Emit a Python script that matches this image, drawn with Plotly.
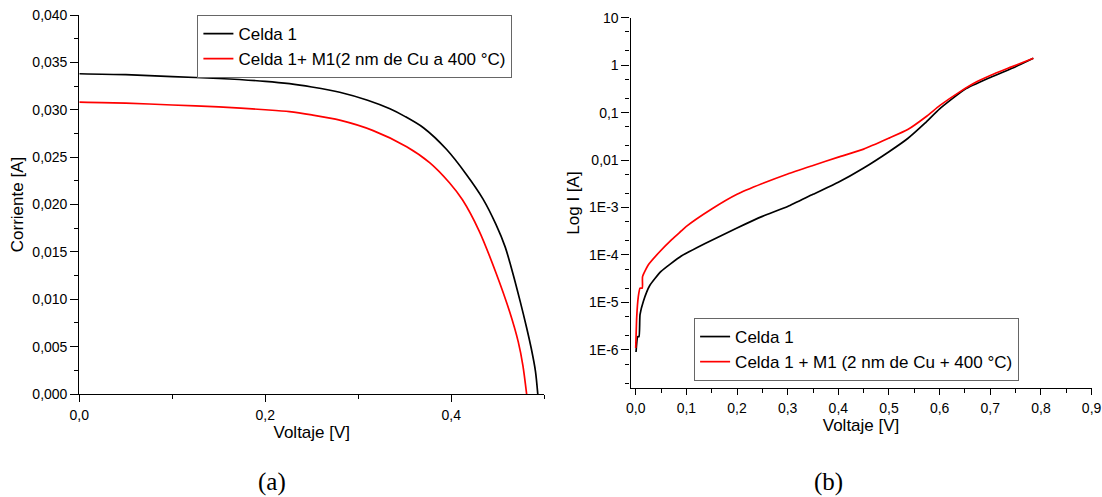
import plotly.graph_objects as go

# ---- Panel (a): I-V curves ----
va_c1 = [0.0, 0.05, 0.1, 0.15, 0.2, 0.226, 0.25, 0.28, 0.31, 0.334, 0.35, 0.37, 0.395, 0.416, 0.434, 0.448, 0.458, 0.466, 0.474, 0.481, 0.486, 0.4905, 0.493]
ia_c1 = [0.0338, 0.0337, 0.0335, 0.0333, 0.0330, 0.03275, 0.0324, 0.03185, 0.0310, 0.0301, 0.0293, 0.0281, 0.0258, 0.0232, 0.0206, 0.0179, 0.0155, 0.0128, 0.0098, 0.0070, 0.0048, 0.0024, 0.0]
va_m1 = [0.0, 0.05, 0.1, 0.15, 0.2, 0.226, 0.25, 0.28, 0.316, 0.352, 0.377, 0.398, 0.412, 0.430, 0.448, 0.463, 0.472, 0.477, 0.481]
ia_m1 = [0.0308, 0.0307, 0.0305, 0.0303, 0.0300, 0.0298, 0.02945, 0.0289, 0.0278, 0.0261, 0.0244, 0.0223, 0.0205, 0.0172, 0.0128, 0.0086, 0.0055, 0.0030, 0.0]

# ---- Panel (b): log I-V curves ----
vb_c1 = [0.0006, 0.004, 0.0065, 0.0085, 0.015, 0.028, 0.05, 0.09, 0.137, 0.2, 0.25, 0.3, 0.35, 0.4, 0.45, 0.5, 0.537, 0.571, 0.6, 0.65, 0.7, 0.75, 0.785]
ib_c1 = [9e-7, 1.9e-6, 1.9e-6, 5.5e-6, 1.05e-5, 2.3e-5, 4.5e-5, 9.5e-5, 1.75e-4, 3.7e-4, 6.5e-4, 1.05e-3, 1.9e-3, 3.4e-3, 6.8e-3, 0.015, 0.0285, 0.060, 0.12, 0.31, 0.55, 0.93, 1.4]
vb_m1 = [0.0, 0.002, 0.005, 0.0085, 0.013, 0.0135, 0.025, 0.045, 0.071, 0.09, 0.1, 0.15, 0.2, 0.25, 0.3, 0.35, 0.4, 0.45, 0.5, 0.537, 0.575, 0.6, 0.639, 0.674, 0.708, 0.742, 0.785]
ib_m1 = [1.1e-6, 5e-6, 1.3e-5, 2e-5, 2e-5, 3.5e-5, 6.2e-5, 1.1e-4, 2.1e-4, 3.2e-4, 4.0e-4, 9.3e-4, 1.9e-3, 3.2e-3, 5.1e-3, 7.7e-3, 0.0115, 0.017, 0.029, 0.044, 0.085, 0.14, 0.27, 0.45, 0.66, 0.92, 1.4]

ya_ticks = [0.0, 0.005, 0.010, 0.015, 0.020, 0.025, 0.030, 0.035, 0.040]
xa_ticks = [0.0, 0.2, 0.4]
yb_ticks = [1e-6, 1e-5, 1e-4, 1e-3, 0.01, 0.1, 1, 10]
yb_text = ["1E-6", "1E-5", "1E-4", "1E-3", "0,01", "0,1", "1", "10"]
xb_ticks = [0.0, 0.1, 0.2, 0.3, 0.4, 0.5, 0.6, 0.7, 0.8, 0.9]

W, H = 1102, 497
FONT = "Liberation Sans, Arial, sans-serif"
SERIF = "Liberation Serif, DejaVu Serif, serif"

fig = go.Figure()
fig.add_trace(go.Scatter(x=va_c1, y=ia_c1, mode="lines", name="Celda 1",
                         line=dict(color="black", width=1.7, shape="spline", smoothing=0.8),
                         xaxis="x", yaxis="y", legend="legend"))
fig.add_trace(go.Scatter(x=va_m1, y=ia_m1, mode="lines", name="Celda 1+ M1(2 nm de Cu a 400 °C)",
                         line=dict(color="#ff0000", width=1.7, shape="spline", smoothing=0.8),
                         xaxis="x", yaxis="y", legend="legend"))
fig.add_trace(go.Scatter(x=vb_c1, y=ib_c1, mode="lines", name="Celda 1",
                         line=dict(color="black", width=1.7, shape="spline", smoothing=0.5),
                         xaxis="x2", yaxis="y2", legend="legend2"))
fig.add_trace(go.Scatter(x=vb_m1, y=ib_m1, mode="lines", name="Celda 1 + M1 (2 nm de Cu + 400 °C)",
                         line=dict(color="#ff0000", width=1.7, shape="spline", smoothing=0.5),
                         xaxis="x2", yaxis="y2", legend="legend2"))

axis_common = dict(showgrid=False, zeroline=False, showline=True, linecolor="black", linewidth=1.2,
                   ticks="outside", tickwidth=1, tickcolor="black", automargin=False,
                   tickfont=dict(family=FONT, size=14, color="black"))

fig.update_layout(
    width=W, height=H,
    margin=dict(l=0, r=0, t=0, b=0),
    paper_bgcolor="white", plot_bgcolor="white",
    separators=",.",
    font=dict(family=FONT, color="black"),
    xaxis=dict(**axis_common, domain=[79.3 / W, 544.3 / W], range=[0, 0.5], anchor="y",
               tickvals=xa_ticks, tickformat=".1f", ticklen=7, ticklabelstandoff=1,
               minor=dict(tickvals=[0.1, 0.3, 0.5], ticks="outside", ticklen=4, tickcolor="black"),
               title=dict(text="Voltaje [V]", font=dict(size=17), standoff=0)),
    yaxis=dict(**axis_common, domain=[1 - 394 / H, 1 - 15 / H], range=[0, 0.040], anchor="x",
               tickvals=ya_ticks, tickformat=".3f", ticklen=8,
               minor=dict(dtick=0.0025, ticks="outside", ticklen=4, tickcolor="black"),
               title=dict(text="Corriente [A]", font=dict(size=17), standoff=4)),
    xaxis2=dict(**axis_common, domain=[630.5 / W, 1091.6 / W], range=[-0.0103, 0.9], anchor="y2",
                tickvals=xb_ticks, tickformat=".1f", ticklen=6, ticklabelstandoff=1,
                minor=dict(dtick=0.05, ticks="outside", ticklen=4, tickcolor="black"),
                title=dict(text="Voltaje [V]", font=dict(size=17), standoff=1)),
    yaxis2=dict(**axis_common, type="log", domain=[1 - 388.3 / H, 1 - 17.7 / H], range=[-6.81, 1.0], anchor="x2",
                tickvals=yb_ticks, ticktext=yb_text, ticklen=8,
                minor=dict(ticks="outside", ticklen=4, tickcolor="black"),
                title=dict(text="Log I [A]", font=dict(size=17), standoff=5)),
    legend=dict(x=197.4 / W, y=1 - 15 / H, xanchor="left", yanchor="top",
                bordercolor="#666666", borderwidth=1, bgcolor="white",
                font=dict(family=FONT, size=17, color="black"), tracegroupgap=0,
                itemwidth=30),
    legend2=dict(x=694.1 / W, y=1 - 318 / H, xanchor="left", yanchor="top",
                 bordercolor="#666666", borderwidth=1, bgcolor="white",
                 font=dict(family=FONT, size=17, color="black"), tracegroupgap=0,
                 itemwidth=30),
    showlegend=True,
    annotations=[
        dict(text="(a)", x=271.7 / W, y=1 - 482 / H, xref="paper", yref="paper", showarrow=False,
             xanchor="center", yanchor="middle",
             font=dict(family=SERIF, size=25, color="black")),
        dict(text="(b)", x=828 / W, y=1 - 482 / H, xref="paper", yref="paper", showarrow=False,
             xanchor="center", yanchor="middle",
             font=dict(family=SERIF, size=25, color="black")),
    ],
)

fig.write_html("out.html")
